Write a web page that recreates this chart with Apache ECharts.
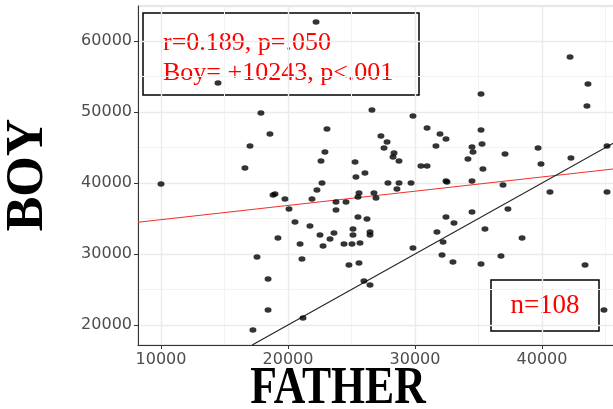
<!DOCTYPE html>
<html>
<head>
<meta charset="utf-8">
<script src="https://cdn.jsdelivr.net/npm/echarts@6/dist/echarts.min.js"></script>
<style>
  html, body { margin: 0; padding: 0; background: #fff; }
  #chart { width: 613px; height: 409px; }
</style>
</head>
<body>
<div id="chart"></div>
<script>
// Father's income (x) and son's income (y) for each family
const fatherIncome = [
  10000,14490,17870,18580,17010,16610,22210,26610,29840,23070,
  30950,31970,32440,27320,27800,27560,31650,22910,22600,28350,
  28270,28740,25280,30470,30950,26060,25350,22680,22280,18820,
  18980,19760,21890,20080,23780,24570,23780,20550,21730,19210,
  22520,23620,23310,20950,22760,17560,21100,18430,18430,17240,
  21180,27870,28740,29690,28580,25590,25510,26770,26930,32440,
  32520,25510,26220,25120,26460,26460,25120,24410,25040,25670,
  24800,25590,25980,26460,29840,32440,33070,31730,32210,32130,
  32990,35200,43540,42210,43620,35200,34490,34570,35280,34170,
  37090,39690,39920,35350,42280,45120,34490,36930,40630,45120,
  34490,37320,35510,38430,35200,36770,43390,44880
];
const boyIncome = [
  39860,54090,49860,46900,45210,42110,62680,50280,49440,47610,
  47750,46900,46200,46620,45780,44930,45210,44370,43100,44230,
  43660,43100,42960,42390,42390,41410,40850,40000,39010,38310,
  38450,37750,37750,36340,37320,37320,36200,34510,33940,32250,
  32680,32960,32110,31410,31130,29580,29300,26480,22110,19300,
  20990,40000,40000,40000,39160,38590,38030,38590,37890,40280,
  40140,35210,34930,33520,33100,32680,32680,31410,31410,31550,
  28450,28730,26200,25630,30850,35210,34370,33100,31690,29860,
  28870,52540,50850,57750,53940,47470,45070,44370,45490,43380,
  44090,44930,42680,41970,43520,45210,40280,39720,38730,38730,
  35920,36340,33520,32250,28590,29720,28450,22110
];

// Least-squares fit line (end points) and the line of equality
const fitX = [8190, 45670];
const fitY = [34480, 41990];
const equalX = [17180, 45670];

// Axis ranges
const xRange = [8190, 45670];
const yRange = [17180, 64930];

// Texts
const xTitle = 'FATHER';
const yTitle = 'BOY';
const statLines = ['r=0.189, p=.050', 'Boy= +10243, p<.001'];
const countText = 'n=108';

const points = fatherIncome.map((f, i) => [f, boyIncome[i]]);
const fitLine = fitX.map((x, i) => [x, fitY[i]]);
const equalLine = equalX.map(x => [x, x]);

const tickFont = {
  color: '#4d4d4d', fontSize: 16, fontFamily: '"DejaVu Sans", Verdana, sans-serif',
  formatter: v => String(Math.round(v))
};
const majorGrid = { show: true, lineStyle: { color: '#ebebeb', width: 1.4 } };
const minorGrid = { show: true, lineStyle: { color: '#f3f3f3', width: 1 } };
const serif = '"Liberation Serif", "Times New Roman", serif';

const chart = echarts.init(document.getElementById('chart'), null, { renderer: 'canvas' });

chart.setOption({
  animation: false,
  backgroundColor: '#ffffff',
  grid: {
    left: 138, right: -1, top: 6, bottom: 64,
    containLabel: false, outerBoundsMode: 'none',
    show: true, borderColor: '#c4c4c4', borderWidth: 1, backgroundColor: 'transparent'
  },
  xAxis: [
    {
      type: 'value', min: xRange[0], max: xRange[1], splitNumber: 4,
      axisLine: { show: true, lineStyle: { color: '#333', width: 1 } },
      axisTick: { show: true, length: 4, lineStyle: { color: '#333' } },
      axisLabel: Object.assign({ margin: 7, showMinLabel: false, showMaxLabel: false }, tickFont),
      splitLine: majorGrid,
      z: 3
    },
    {
      type: 'value', min: xRange[0], max: xRange[1], splitNumber: 8,
      axisLine: { show: false }, axisTick: { show: false }, axisLabel: { show: false },
      splitLine: minorGrid, z: 1
    }
  ],
  yAxis: [
    {
      type: 'value', min: yRange[0], max: yRange[1], splitNumber: 5,
      axisLine: { show: true, lineStyle: { color: '#333', width: 1 } },
      axisTick: { show: true, length: 4, lineStyle: { color: '#333' } },
      axisLabel: Object.assign({ margin: 6, showMinLabel: false, showMaxLabel: false }, tickFont),
      splitLine: majorGrid,
      z: 3
    },
    {
      type: 'value', min: yRange[0], max: yRange[1], splitNumber: 10,
      axisLine: { show: false }, axisTick: { show: false }, axisLabel: { show: false },
      splitLine: minorGrid, z: 1
    }
  ],
  series: [
    {
      type: 'line', data: fitLine, xAxisIndex: 0, yAxisIndex: 0,
      showSymbol: false, lineStyle: { color: '#f0302c', width: 1.1 }, z: 4, silent: true
    },
    {
      type: 'line', data: equalLine, xAxisIndex: 0, yAxisIndex: 0,
      showSymbol: false, lineStyle: { color: '#222', width: 1.1 }, z: 4, silent: true
    },
    {
      type: 'scatter', data: points, xAxisIndex: 0, yAxisIndex: 0,
      symbol: 'circle', symbolSize: [7, 5.5],
      itemStyle: { color: '#000' }, z: 5
    }
  ],
  graphic: [
    // axis titles
    { type: 'text', x: 338, y: 390, scaleX: 0.84, z: 10,
      style: { text: xTitle, fill: '#000', align: 'center', verticalAlign: 'middle',
               font: 'bold 52px ' + serif } },
    { type: 'text', x: 29, y: 175, rotation: Math.PI / 2, z: 10,
      style: { text: yTitle, fill: '#000', align: 'center', verticalAlign: 'middle',
               font: 'bold 52px ' + serif } },
    // statistics box
    {
      type: 'group', x: 143, y: 13, z: 10,
      children: [
        { type: 'rect', shape: { x: 0, y: 0, width: 276, height: 82 },
          style: { fill: 'none', stroke: '#000', lineWidth: 1.5 } },
        { type: 'text', x: 20, y: 17,
          style: { text: statLines[0], fill: '#ff0000', font: '26px ' + serif } },
        { type: 'text', x: 20, y: 47,
          style: { text: statLines[1], fill: '#ff0000', font: '26px ' + serif } }
      ]
    },
    // sample size box
    {
      type: 'group', x: 491, y: 280, z: 10,
      children: [
        { type: 'rect', shape: { x: 0, y: 0, width: 108, height: 51 },
          style: { fill: 'none', stroke: '#000', lineWidth: 1.5 } },
        { type: 'text', x: 54, y: 26,
          style: { text: countText, fill: '#ff0000', align: 'center', verticalAlign: 'middle',
                   font: '27px ' + serif } }
      ]
    }
  ]
});
</script>
</body>
</html>
